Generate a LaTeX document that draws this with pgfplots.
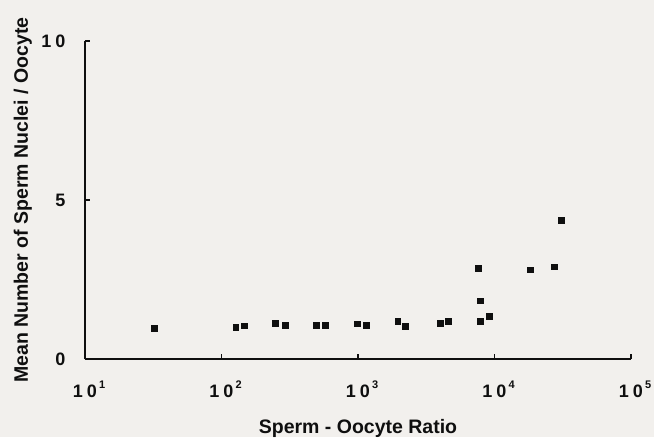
\documentclass[border=0pt]{standalone}
\usepackage{fontspec}
\setmainfont{Liberation Sans}
\usepackage{pgfplots}
\pgfplotsset{compat=1.18}
\definecolor{bgc}{RGB}{242,240,237}
\definecolor{ink}{RGB}{15,15,15}
\newcommand{\tl}[1]{1\kern4pt 0\rlap{\raisebox{9pt}{\fontsize{11}{11}\selectfont\kern2pt #1}}}
\begin{document}
\begin{tikzpicture}
\useasboundingbox (-85pt,-78pt) rectangle (569pt,359pt);
\fill[bgc] (-85pt,-78pt) rectangle (569pt,359pt);
\begin{axis}[
  at={(0,0)}, anchor=south west,
  scale only axis, width=546pt, height=318pt,
  xmode=log, log basis x=10,
  xmin=10, xmax=100000, ymin=0, ymax=10,
  axis x line=bottom, axis y line=left,
  axis line style={-, line width=2.3pt, ink},
  xtick={10,100,1000,10000,100000},
  xticklabels={\tl{1},\tl{2},\tl{3},\tl{4},\tl{5}},
  ytick={0,5,10},
  yticklabels={0,5,1\kern4pt 0},
  minor xtick={},
  tick align=inside,
  major tick length=5pt,
  tick style={line width=1.8pt, ink},
  xticklabel style={anchor=base, yshift=-38pt, font=\fontsize{18}{18}\selectfont\bfseries, text=ink},
  yticklabel style={anchor=base east, xshift=-16pt, yshift=-6.5pt, font=\fontsize{18}{18}\selectfont\bfseries, text=ink},
  xlabel={Sperm - Oocyte Ratio},
  ylabel={Mean Number of Sperm Nuclei / Oocyte},
  xlabel style={at={(axis description cs:0.5,0)}, anchor=base, yshift=-74pt, font=\fontsize{19.5}{20}\selectfont\bfseries, text=ink},
  ylabel style={at={([xshift=-57pt]axis description cs:0,0.5)}, anchor=base, font=\fontsize{19.5}{20}\selectfont\bfseries, text=ink},
  clip=false,
]
\addplot[only marks, mark=square*, mark size=2.8pt, ink] coordinates {
(32,0.97)
(127,1.00)
(146,1.05)
(247,1.12)
(294,1.06)
(494,1.06)
(575,1.06)
(982,1.11)
(1153,1.07)
(1950,1.18)
(2218,1.03)
(3985,1.13)
(4575,1.18)
(7620,2.85)
(7870,1.83)
(7870,1.18)
(9130,1.35)
(18200,2.81)
(27400,2.90)
(30700,4.37)
};
\end{axis}
\end{tikzpicture}
\end{document}
